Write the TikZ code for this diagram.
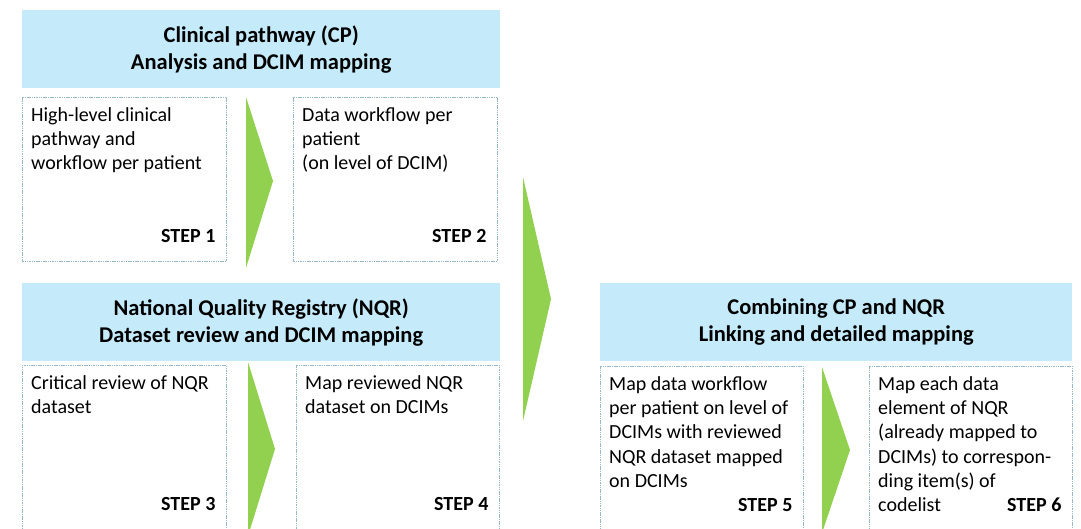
\documentclass[tikz,border=0pt]{standalone}
\usepackage{fontspec}
\setmainfont{Carlito}
\usetikzlibrary{positioning}

\definecolor{headblue}{RGB}{197,235,250}
\definecolor{stepgreen}{RGB}{146,208,80}
\definecolor{boxline}{RGB}{150,185,200}

\begin{document}
\begin{tikzpicture}[x=1pt,y=-1pt,
  header/.style={fill=headblue, minimum height=78pt, anchor=north west, inner sep=0pt,
    align=center, font=\fontsize{22.5}{27}\selectfont\bfseries},
  stepbox/.style={draw=boxline, line width=0.6pt, dash pattern=on 1.5pt off 0.8pt,
    minimum width=204pt, minimum height=164pt, anchor=north west, inner sep=0pt},
  boxtext/.style={anchor=north west, inner sep=0pt, align=left, font=\fontsize{20}{24.2}\selectfont,
    execute at begin node=\strut},
  steplabel/.style={anchor=base east, inner sep=0pt, font=\fontsize{20}{24}\selectfont\bfseries},
  chevron/.style={fill=stepgreen}]
  \clip (0,0) rectangle (1081,528);

% clinical pathway
  \node[header, minimum width=478pt] (cp) at (22,10) {Clinical pathway (CP)\\Analysis and DCIM mapping};
  \node[stepbox] (b1) at (22,97) {};
  \node[stepbox] (b2) at (293,97) {};
  \node[boxtext] (t1) at ([shift={(9pt,-10.5pt)}]b1.north west) {High-level clinical\\pathway and\\workflow per patient};
  \node[boxtext] (t2) at ([shift={(9pt,-10.5pt)}]b2.north west) {Data workflow per\\patient\\(on level of DCIM)};
  \node[steplabel] (s1) at ([shift={(-11pt,-145pt)}]b1.north east) {STEP 1};
  \node[steplabel] (s2) at ([shift={(-11pt,-145pt)}]b2.north east) {STEP 2};
  \fill[chevron] (246,97) -- (273,181) -- (246,268) -- cycle;

% national quality registry
  \node[header, minimum width=478pt] (nqr) at (22,283) {National Quality Registry (NQR)\\Dataset review and DCIM mapping};
  \node[stepbox, minimum height=175pt] (b3) at (22,365) {};
  \node[stepbox, minimum height=175pt, minimum width=203pt] (b4) at (296,365) {};
  \node[boxtext] (t3) at ([shift={(9pt,-10.5pt)}]b3.north west) {Critical review of NQR\\dataset};
  \node[boxtext] (t4) at ([shift={(9pt,-10.5pt)}]b4.north west) {Map reviewed NQR\\dataset on DCIMs};
  \node[steplabel] (s3) at ([shift={(-11pt,-145pt)}]b3.north east) {STEP 3};
  \node[steplabel] (s4) at ([shift={(-11pt,-145pt)}]b4.north east) {STEP 4};
  \fill[chevron] (248,362) -- (275,449) -- (248,536) -- cycle;

% big step to the combination
  \fill[chevron] (523,177) -- (551,299) -- (523,421) -- cycle;

% combining CP and NQR
  \node[header, minimum width=472pt] (comb) at (600,283) {Combining CP and NQR\\Linking and detailed mapping};
  \node[stepbox, minimum height=175pt, minimum width=203pt] (b5) at (600,366) {};
  \node[stepbox, minimum height=175pt, minimum width=203pt] (b6) at (869,366) {};
  \node[boxtext] (t5) at ([shift={(9pt,-10.5pt)}]b5.north west) {Map data workflow\\per patient on level of\\DCIMs with reviewed\\NQR dataset mapped\\on DCIMs};
  \node[boxtext] (t6) at ([shift={(9pt,-10.5pt)}]b6.north west) {Map each data\\element of NQR\\(already mapped to\\DCIMs) to correspon-\\ding item(s) of\\codelist};
  \node[steplabel] (s5) at ([shift={(-11pt,-145pt)}]b5.north east) {STEP 5};
  \node[steplabel] (s6) at ([shift={(-11pt,-145pt)}]b6.north east) {STEP 6};
  \fill[chevron] (822,367) -- (850,450) -- (822,533) -- cycle;
\end{tikzpicture}
\end{document}
